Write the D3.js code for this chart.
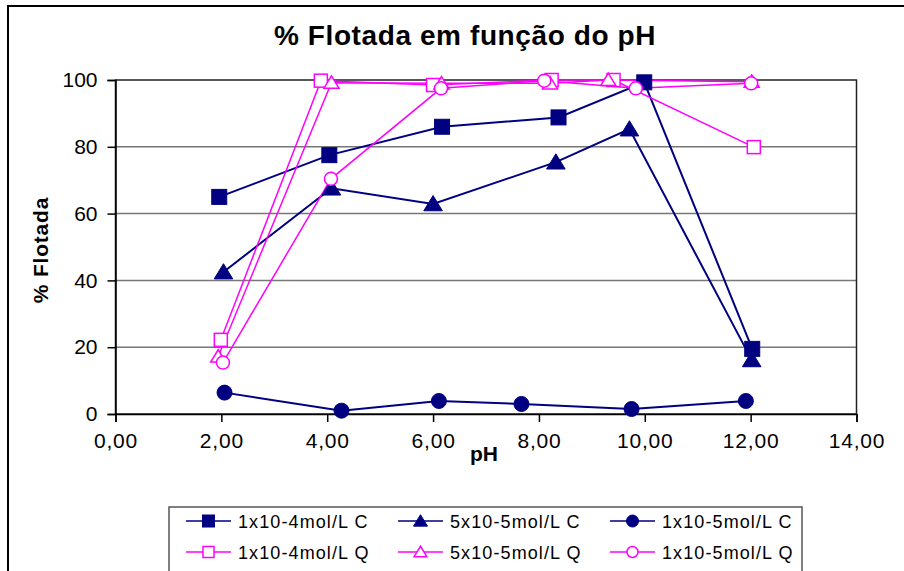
<!DOCTYPE html>
<html><head><meta charset="utf-8">
<script src="https://cdn.jsdelivr.net/npm/d3@7/dist/d3.min.js"></script>
<style>body{margin:0;background:#fff}svg{display:block;font-family:Arial,"Liberation Sans",sans-serif}</style>
</head><body><svg id="c" width="904" height="571"></svg>
<script>
const title = "% Flotada em função do pH";
const xTicks = [0, 2, 4, 6, 8, 10, 12, 14];
const yTicks = [0, 20, 40, 60, 80, 100];
const seriesNames = ["1x10-4mol/L C", "5x10-5mol/L C", "1x10-5mol/L C", "1x10-4mol/L Q", "5x10-5mol/L Q", "1x10-5mol/L Q"];
const seriesColors = ["#000080", "#000080", "#000080", "#FF00FF", "#FF00FF", "#FF00FF"];
const seriesShapes = ["square", "triangle", "circle", "square", "triangle", "circle"];
const seriesFilled = [true, true, true, false, false, false];
const pH_C1 = [1.96, 4.04, 6.17, 8.37, 9.99, 12.03];
const val_C1 = [65.0, 77.5, 86.0, 88.8, 99.3, 19.5];
const pH_C2 = [2.04, 4.08, 6.00, 8.32, 9.71, 12.02];
const val_C2 = [42.5, 67.6, 62.9, 75.4, 85.3, 16.2];
const pH_C3 = [2.06, 4.27, 6.11, 7.67, 9.75, 11.91];
const val_C3 = [6.4, 1.0, 3.9, 3.0, 1.5, 3.9];
const pH_Q1 = [1.99, 3.88, 6.00, 8.24, 9.41, 12.06];
const val_Q1 = [22.2, 99.8, 98.5, 100.0, 100.0, 79.9];
const pH_Q2 = [1.94, 4.08, 6.16, 8.21, 9.31, 12.02];
const val_Q2 = [17.2, 99.2, 99.0, 99.0, 100.0, 99.5];
const pH_Q3 = [2.03, 4.07, 6.15, 8.10, 9.83, 12.01];
const val_Q3 = [15.4, 70.4, 97.5, 99.8, 97.5, 99.0];

const seriesX = [pH_C1, pH_C2, pH_C3, pH_Q1, pH_Q2, pH_Q3];
const seriesY = [val_C1, val_C2, val_C3, val_Q1, val_Q2, val_Q3];

const svg = d3.select("#c");
const L = 115.5, R = 856.5, T = 80, B = 414;
const x = d3.scaleLinear().domain([0, 14]).range([L, R]);
const y = d3.scaleLinear().domain([0, 100]).range([B, T]);

// outer chart border
svg.append("rect").attr("x", 8).attr("y", 6).attr("width", 1000).attr("height", 1000)
  .attr("fill", "#fff").attr("stroke", "#000").attr("stroke-width", 2);

// title
svg.append("text").attr("x", 465).attr("y", 45).attr("text-anchor", "middle")
  .attr("font-size", 28).attr("font-weight", "bold").attr("letter-spacing", 0.6).text(title);

// gridlines
svg.append("g").selectAll("line").data(yTicks.filter(d => d > 0 && d < 100)).join("line")
  .attr("x1", L).attr("x2", R).attr("y1", d => y(d)).attr("y2", d => y(d))
  .attr("stroke", "#777").attr("stroke-width", 1.5);

// plot border
svg.append("rect").attr("x", L).attr("y", T).attr("width", R - L).attr("height", B - T)
  .attr("fill", "none").attr("stroke", "#222").attr("stroke-width", 1.5);

// axes
const yAxis = d3.axisLeft(y).tickValues(yTicks).tickSize(8).tickPadding(10).tickFormat(d3.format("d"));
const gy = svg.append("g").attr("transform", `translate(${L},0)`).call(yAxis);
const xAxis = d3.axisBottom(x).tickValues(xTicks).tickSize(8).tickPadding(11).tickFormat(d => d3.format(".2f")(d).replace(".", ","));
const gx = svg.append("g").attr("transform", `translate(0,${B})`).call(xAxis);
[gx, gy].forEach(g => {
  g.select(".domain").attr("stroke", "#000").attr("stroke-width", 1.5);
  g.selectAll(".tick line").attr("stroke", "#000").attr("stroke-width", 1.5);
  g.selectAll(".tick text").attr("font-size", 21).attr("fill", "#000").attr("font-family", "Arial, 'Liberation Sans', sans-serif");
});
gx.selectAll(".tick text").attr("letter-spacing", 0.8);

// axis titles
svg.append("text").attr("transform", "translate(48,250) rotate(-90)").attr("text-anchor", "middle")
  .attr("font-size", 21).attr("font-weight", "bold").attr("letter-spacing", 0.8).text("% Flotada");
svg.append("text").attr("x", 484).attr("y", 461).attr("text-anchor", "middle")
  .attr("font-size", 21).attr("font-weight", "bold").text("pH");

function drawMarker(g, shape, filled, color, cx, cy, s) {
  const fill = filled ? color : "#fff";
  const sw = filled ? 1 : 1.5;
  if (shape === "square") {
    g.append("rect").attr("x", cx - s / 2).attr("y", cy - s / 2).attr("width", s).attr("height", s)
      .attr("fill", fill).attr("stroke", color).attr("stroke-width", sw);
  } else if (shape === "triangle") {
    const h = s * 0.95;
    g.append("path").attr("d", `M${cx},${cy - h * 0.55}L${cx + s * 0.58},${cy + h * 0.45}L${cx - s * 0.58},${cy + h * 0.45}Z`)
      .attr("fill", fill).attr("stroke", color).attr("stroke-width", sw);
  } else {
    g.append("circle").attr("cx", cx).attr("cy", cy).attr("r", s / 2)
      .attr("fill", fill).attr("stroke", color).attr("stroke-width", sw);
  }
}

const line = d3.line().x(d => x(d[0])).y(d => y(d[1]));
seriesNames.forEach((name, i) => {
  const pts = seriesX[i].map((v, j) => [v, seriesY[i][j]]);
  const g = svg.append("g");
  g.append("path").attr("d", line(pts)).attr("fill", "none").attr("stroke", seriesColors[i])
    .attr("stroke-width", seriesFilled[i] ? 2 : 1.5);
});
seriesNames.forEach((name, i) => {
  const g = svg.append("g");
  seriesX[i].forEach((v, j) => {
    const s = seriesFilled[i] ? (seriesShapes[i] === "triangle" ? 16 : 15) : 13;
    drawMarker(g, seriesShapes[i], seriesFilled[i], seriesColors[i], x(v), y(seriesY[i][j]), s);
  });
});

// legend
const lg = svg.append("g");
lg.append("rect").attr("x", 169).attr("y", 507).attr("width", 633).attr("height", 100)
  .attr("fill", "#fff").attr("stroke", "#555").attr("stroke-width", 1.5);
const colX = [186, 398, 610];
const rowY = [521, 552];
seriesNames.forEach((name, i) => {
  const cx = colX[i % 3], cy = rowY[Math.floor(i / 3)];
  lg.append("line").attr("x1", cx).attr("x2", cx + 45).attr("y1", cy).attr("y2", cy)
    .attr("stroke", seriesColors[i]).attr("stroke-width", 1.5);
  drawMarker(lg, seriesShapes[i], seriesFilled[i], seriesColors[i], cx + 22.5, cy, seriesFilled[i] ? 12 : 11);
  lg.append("text").attr("x", cx + 52).attr("y", cy + 7).attr("font-size", 18).attr("letter-spacing", 1.1)
    .text(name);
});
</script></body></html>
